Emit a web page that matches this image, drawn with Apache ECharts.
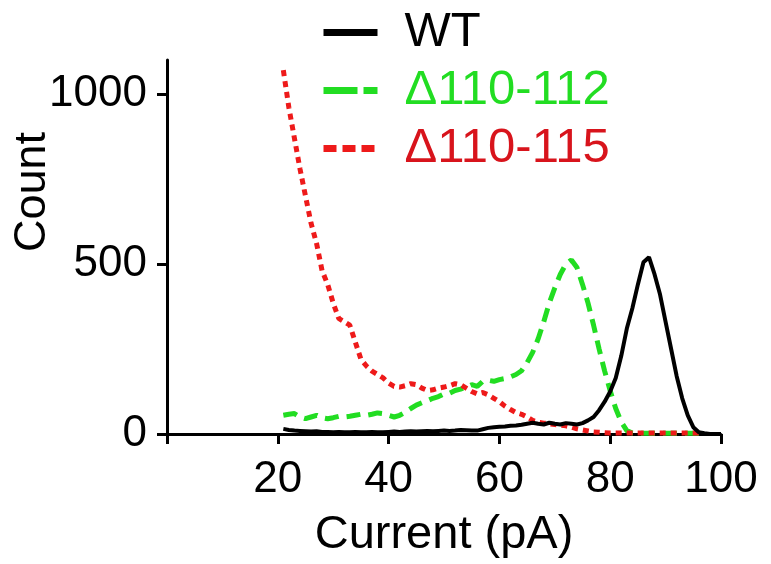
<!DOCTYPE html>
<html>
<head>
<meta charset="utf-8">
<script src="https://cdn.jsdelivr.net/npm/echarts@6/dist/echarts.min.js"></script>
<style>html,body{margin:0;padding:0;background:#fff}#c{width:771px;height:564px}</style>
</head>
<body>
<div id="c"></div>
<script>
var seriesNames = ['WT', '\u0394110-112', '\u0394110-115'];
var current = [21,22,23,24,25,26,27,28,29,30,31,32,33,34,35,36,37,38,39,40,41,42,43,44,45,46,47,48,49,50,51,52,53,54,55,56,57,58,59,60,61,62,63,64,65,66,67,68,69,70,71,72,73,74,75,76,77,78,79,80,81,82,83,84,85,86,87,88,89,90,91,92,93,94,95,96,97,98,99,100];
var wtCounts = [15,12,10,9,8,7,8,6,6,5,6,5,5,6,5,5,6,5,5,6,7,6,7,8,7,8,9,8,9,10,9,10,12,11,10,10,14,18,20,21,22,24,25,27,30,33,30,28,33,30,28,32,30,28,32,40,50,70,95,125,165,230,310,370,440,505,520,470,410,330,250,170,105,55,20,5,2,0,0,0];
var d112Counts = [55,58,60,50,45,50,55,48,45,48,52,50,52,55,58,55,58,62,60,55,50,55,64,75,85,92,98,105,110,118,120,128,132,138,145,140,155,158,155,160,163,168,175,186,210,240,280,330,385,430,470,500,512,490,440,385,320,250,185,127,75,35,10,3,2,2,2,2,2,2,2,2,2,2,2,2,null,null,null,null];
var d115Counts = [1070,960,870,780,700,620,560,480,440,385,340,330,320,270,220,200,185,175,165,150,140,138,142,148,145,135,128,130,135,138,142,148,145,135,125,118,122,115,105,95,82,72,63,58,50,40,35,32,30,28,26,24,20,15,12,9,6,5,4,3,3,3,3,3,3,3,3,3,3,3,3,3,3,3,3,3,null,null,null,null];
var xTickLabels = [20,40,60,80,100];
var yTickLabels = [0,500,1000];

function pairs(xs, ys){ var out=[]; for(var i=0;i<xs.length;i++){ if(ys[i]!==null) out.push([xs[i], ys[i]]); } return out; }

var FONT = 'Liberation Sans, Arial, sans-serif';
var GREEN = '#22dd22', RED = '#ee1a1a';
var hidden = {opacity: 0, color: 'rgba(0,0,0,0)', borderWidth: 0};
var chart = echarts.init(document.getElementById('c'), null, {renderer:'canvas'});
chart.setOption({
  animation: false,
  backgroundColor: '#fff',
  grid: {left: 167, right: 50, top: 60, bottom: 130, containLabel: false, outerBoundsMode: 'none'},
  legend: {
    orient: 'vertical', left: 320, top: 8, padding: 0, itemWidth: 54, itemHeight: 20, itemGap: 9,
    textStyle: {fontSize: 49, fontFamily: FONT, padding: [0,0,0,22]},
    data: [
      {name: seriesNames[0], textStyle: {color: '#000'}, itemStyle: hidden, lineStyle: {width: 7, type: 'solid', color: '#000'}},
      {name: seriesNames[1], textStyle: {color: GREEN}, itemStyle: hidden, lineStyle: {width: 7, type: [34, 6], color: GREEN}},
      {name: seriesNames[2], textStyle: {color: '#d8141c'}, itemStyle: hidden, lineStyle: {width: 7, type: [13, 6], color: RED}}
    ]
  },
  xAxis: {
    type: 'value', min: 0, max: 100, interval: 20,
    name: 'Current (pA)', nameLocation: 'middle', nameGap: 78, nameMoveOverlap: false,
    nameTextStyle: {fontSize: 47, fontFamily: FONT, color: '#000'},
    splitLine: {show: false},
    axisLine: {lineStyle: {color: '#000', width: 3}},
    axisTick: {length: 10, lineStyle: {color: '#000', width: 3}},
    axisLabel: {customValues: xTickLabels, fontSize: 44, fontFamily: FONT, color: '#000', margin: 24,
                formatter: function(v){ return String(v); }}
  },
  yAxis: {
    type: 'value', min: 0, max: 1100, interval: 500,
    name: 'Count', nameLocation: 'middle', nameGap: 112, nameMoveOverlap: false,
    nameTextStyle: {fontSize: 45, fontFamily: FONT, color: '#000', padding: [0,0,0,110]},
    splitLine: {show: false},
    axisLine: {show: true, lineStyle: {color: '#000', width: 3}},
    axisTick: {show: true, length: 10, customValues: yTickLabels, lineStyle: {color: '#000', width: 3}},
    axisLabel: {customValues: yTickLabels, fontSize: 44, fontFamily: FONT, color: '#000', margin: 20,
                formatter: function(v){ return String(v); }}
  },
  series: [
    {name: seriesNames[0], type: 'line', symbol: 'none', data: pairs(current, wtCounts), z: 4,
     lineStyle: {color: '#000', width: 4, type: 'solid'}, itemStyle: {color: '#000'}},
    {name: seriesNames[1], type: 'line', symbol: 'none', data: pairs(current, d112Counts), z: 3,
     lineStyle: {color: GREEN, width: 5, type: [14, 8]}, itemStyle: {color: GREEN}},
    {name: seriesNames[2], type: 'line', symbol: 'none', data: pairs(current, d115Counts), z: 3,
     lineStyle: {color: RED, width: 5, type: [6, 5]}, itemStyle: {color: RED}}
  ]
});
</script>
</body>
</html>
